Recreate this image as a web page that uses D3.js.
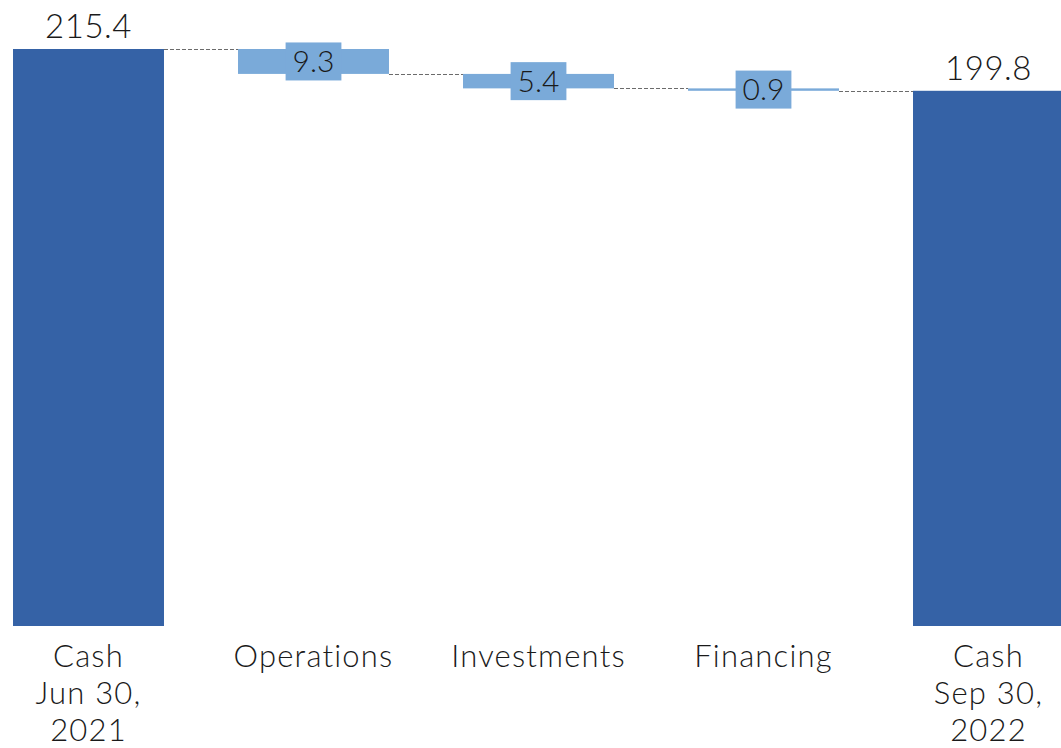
<!DOCTYPE html>
<html>
<head>
<meta charset="utf-8">
<script src="https://cdn.jsdelivr.net/npm/d3@7"></script>
<style>
  html, body { margin: 0; padding: 0; background: #fff; }
  svg { display: block; }
  text { font-family: Lato, "Open Sans", sans-serif; font-weight: 300; fill: #1a1a1a; }
</style>
</head>
<body>
<svg id="chart" width="1061" height="748"></svg>
<script>
// Cash bridge: opening balance, quarterly movements, closing balance
const categories = [
  ["Cash", "Jun 30,", "2021"],
  ["Operations"],
  ["Investments"],
  ["Financing"],
  ["Cash", "Sep 30,", "2022"]
];
const kinds  = ["total", "delta", "delta", "delta", "total"];
const values = [215.4, -9.3, -5.4, -0.9, 199.8];

const svg = d3.select("#chart");

// running totals for floating bars
let running = 0;
const bars = values.map((v, i) => {
  let y0, y1;
  if (kinds[i] === "total") { y0 = 0; y1 = v; running = v; }
  else { y0 = running; y1 = running + v; running = y1; }
  return { i, key: categories[i].join(" "), lines: categories[i], kind: kinds[i], value: v,
           lo: Math.min(y0, y1), hi: Math.max(y0, y1), end: y1 };
});

const x = d3.scaleBand()
  .domain(bars.map(d => d.key))
  .range([-24, 1101])
  .paddingInner(0.329)
  .paddingOuter(0.329 / 2);

const y = d3.scaleLinear()
  .domain([0, d3.max(values)])
  .range([626, 49]);

const dark = "#3562a6", light = "#7aaad9";

// connectors between consecutive bars at the running level
const conn = svg.append("g");
bars.slice(0, -1).forEach((d, k) => {
  const next = bars[k + 1];
  const level = d.kind === "total" ? d.value : d.end;
  conn.append("line")
    .attr("x1", x(d.key) + x.bandwidth())
    .attr("x2", x(next.key))
    .attr("y1", Math.round(y(level)) + 0.5)
    .attr("y2", Math.round(y(level)) + 0.5)
    .attr("stroke", "#6b6b6b")
    .attr("stroke-width", 1.2)
    .attr("stroke-dasharray", "4,2");
});

// bars
svg.append("g").selectAll("rect")
  .data(bars)
  .join("rect")
  .attr("x", d => x(d.key))
  .attr("width", x.bandwidth())
  .attr("y", d => y(d.hi))
  .attr("height", d => Math.max(2, y(d.lo) - y(d.hi)))
  .attr("fill", d => d.kind === "total" ? dark : light);

// value labels over the totals
svg.append("g").selectAll("text")
  .data(bars.filter(d => d.kind === "total"))
  .join("text")
  .attr("x", d => x(d.key) + x.bandwidth() / 2)
  .attr("y", d => y(d.hi) - 11)
  .attr("text-anchor", "middle")
  .attr("font-size", 33)
  .attr("letter-spacing", 0.5)
  .text(d => d3.format(".1f")(d.value));

// boxed labels centred on the movement bars
const dl = svg.append("g").selectAll("g")
  .data(bars.filter(d => d.kind === "delta"))
  .join("g")
  .attr("transform", d => `translate(${x(d.key) + x.bandwidth() / 2},${(y(d.hi) + y(d.lo)) / 2})`);
dl.append("rect").attr("fill", light);
dl.append("text")
  .attr("text-anchor", "middle")
  .attr("dy", "0.36em")
  .attr("font-size", 30)
  .text(d => d3.format(".1f")(Math.abs(d.value)));
dl.each(function () {
  const g = d3.select(this);
  const bb = g.select("text").node().getBBox();
  g.select("rect")
    .attr("x", -bb.width / 2 - 7)
    .attr("width", bb.width + 14)
    .attr("y", -19)
    .attr("height", 38);
});

// category labels
const cl = svg.append("g").selectAll("text")
  .data(bars)
  .join("text")
  .attr("x", d => x(d.key) + x.bandwidth() / 2)
  .attr("y", 667)
  .attr("text-anchor", "middle")
  .attr("font-size", 31)
  .attr("letter-spacing", 1.2);
cl.selectAll("tspan")
  .data(d => d.lines.map(t => ({ t, cx: x(d.key) + x.bandwidth() / 2 })))
  .join("tspan")
  .attr("x", d => d.cx)
  .attr("dy", (d, i) => i === 0 ? 0 : 37)
  .text(d => d.t);
</script>
</body>
</html>
